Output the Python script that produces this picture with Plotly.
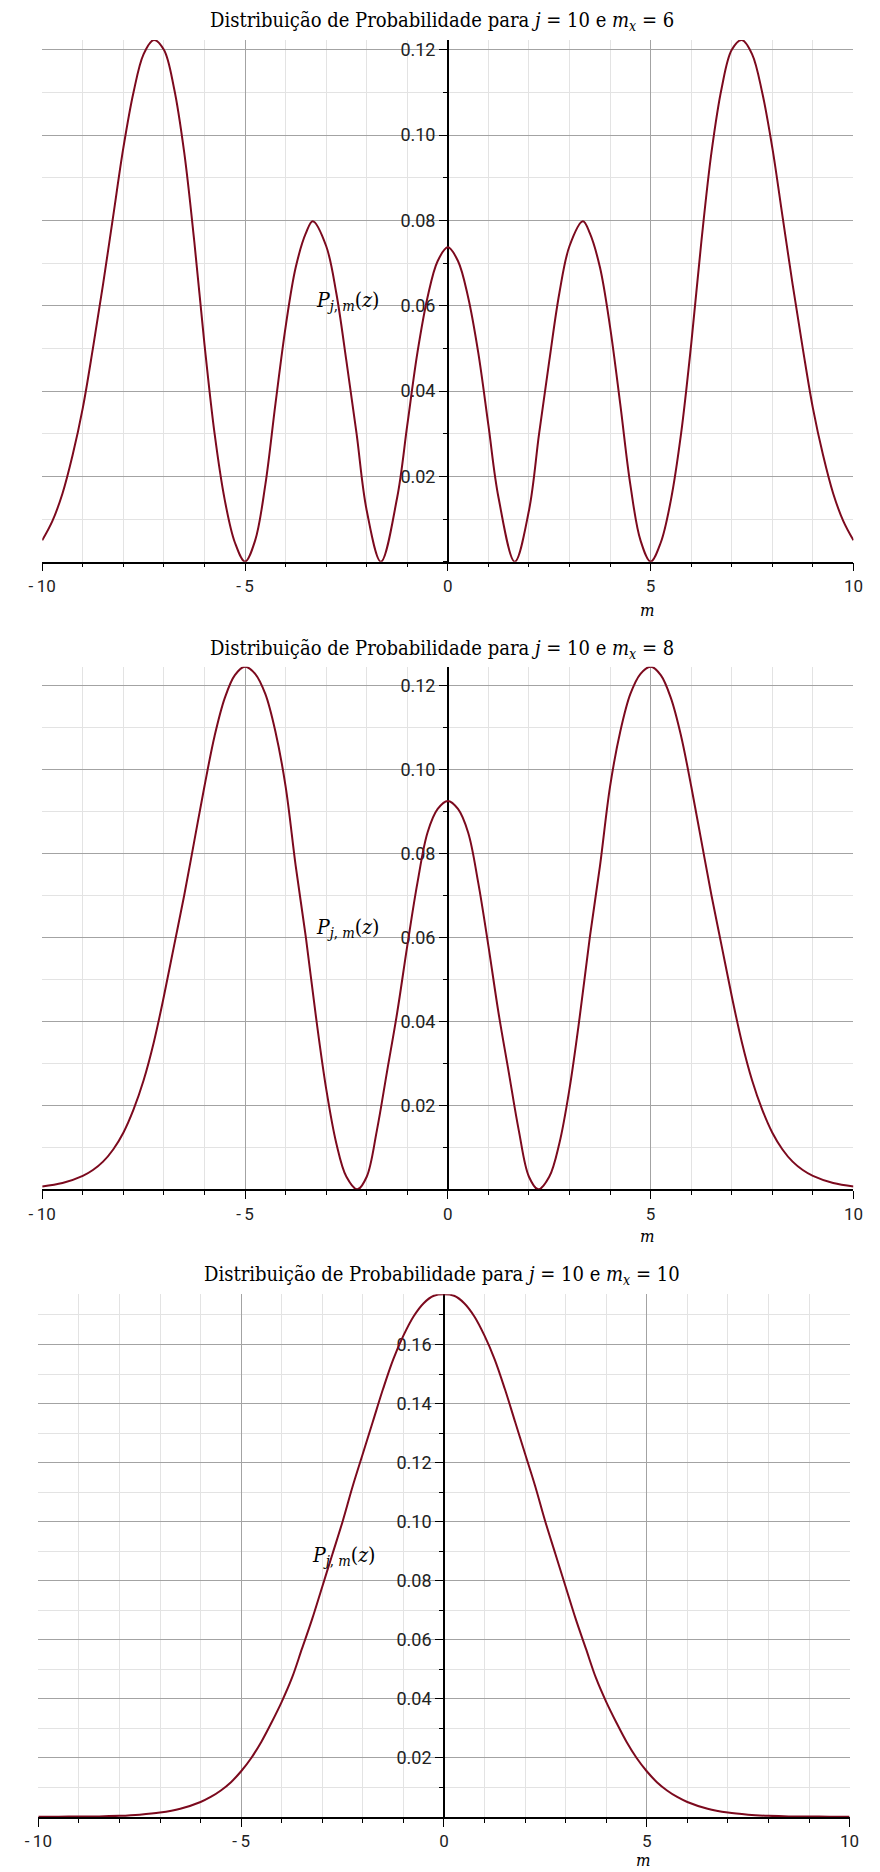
import plotly.graph_objects as go

# ---- P_{j,m}(z) for j = 10, m_x = 6 ----
m1 = [-10, -9.75, -9.5, -9.25, -9, -8.75, -8.5, -8.25, -8, -7.75, -7.5, -7.25, -7,
      -6.75, -6.5, -6.25, -6, -5.75, -5.5, -5.25, -5, -4.75, -4.5, -4.25, -4, -3.75,
      -3.5, -3.33, -3, -2.75, -2.5, -2.25, -2, -1.65, -1.25, -1, -0.75, -0.5, -0.25, 0,
      0.25, 0.5, 0.75, 1, 1.25, 1.65, 2, 2.25, 2.5, 2.75, 3, 3.33, 3.5, 3.75, 4, 4.25,
      4.5, 4.75, 5, 5.25, 5.5, 5.75, 6, 6.25, 6.5, 6.75, 7, 7.25, 7.5, 7.75, 8, 8.25,
      8.5, 8.75, 9, 9.25, 9.5, 9.75, 10]
p1 = [0.005, 0.0095, 0.016, 0.025, 0.036, 0.050, 0.065, 0.081, 0.097, 0.110, 0.119, 0.1223, 0.120,
      0.111, 0.096, 0.075, 0.051, 0.030, 0.0145, 0.0045, 0.0, 0.005, 0.018, 0.037, 0.055, 0.069,
      0.077, 0.0798, 0.074, 0.063, 0.047, 0.030, 0.012, 0.0, 0.015, 0.032, 0.049, 0.062, 0.0705, 0.0737,
      0.0705, 0.062, 0.049, 0.032, 0.015, 0.0, 0.012, 0.030, 0.047, 0.063, 0.074, 0.0798, 0.077, 0.069, 0.055, 0.037,
      0.018, 0.005, 0.0, 0.0045, 0.0145, 0.030, 0.051, 0.075, 0.096, 0.111, 0.120, 0.1223, 0.119, 0.110, 0.097, 0.081,
      0.065, 0.050, 0.036, 0.025, 0.016, 0.0095, 0.005]

# ---- P_{j,m}(z) for j = 10, m_x = 8 ----
m2 = [-10, -9.5, -9, -8.75, -8.5, -8.25, -8, -7.75, -7.5, -7.25, -7, -6.75, -6.5, -6.25, -6,
      -5.75, -5.5, -5.25, -5, -4.75, -4.5, -4.25, -4, -3.75, -3.5, -3.25, -3, -2.75,
      -2.5, -2.23, -2, -1.75, -1.5, -1.25, -1, -0.75, -0.5, -0.25, 0,
      0.25, 0.5, 0.75, 1, 1.25, 1.5, 1.75, 2, 2.23, 2.5, 2.75, 3, 3.25, 3.5, 3.75, 4,
      4.25, 4.5, 4.75, 5, 5.25, 5.5, 5.75, 6, 6.25, 6.5, 6.75, 7, 7.25, 7.5, 7.75, 8,
      8.25, 8.5, 8.75, 9, 9.5, 10]
p2 = [0.0007, 0.0015, 0.0032, 0.0046, 0.0066, 0.0095, 0.0135, 0.019, 0.026, 0.035, 0.046, 0.058, 0.070, 0.083, 0.096,
      0.108, 0.117, 0.1225, 0.1245, 0.1228, 0.118, 0.109, 0.096, 0.077, 0.060, 0.041, 0.024, 0.011,
      0.003, 0.0, 0.003, 0.014, 0.028, 0.042, 0.058, 0.073, 0.085, 0.0906, 0.0925,
      0.0906, 0.085, 0.073, 0.058, 0.042, 0.028, 0.014, 0.003, 0.0, 0.003, 0.011, 0.024, 0.041, 0.060, 0.077, 0.096,
      0.109, 0.118, 0.1228, 0.1245, 0.1225, 0.117, 0.108, 0.096, 0.083, 0.070, 0.058, 0.046, 0.035, 0.026, 0.019, 0.0135,
      0.0095, 0.0066, 0.0046, 0.0032, 0.0015, 0.0007]

# ---- P_{j,m}(z) for j = 10, m_x = 10 ----
m3 = [-10, -9.5, -9, -8.5, -8, -7.5, -7, -6.5, -6, -5.75, -5.5, -5.25, -5, -4.75, -4.5, -4.25,
      -4, -3.75, -3.5, -3.25, -3, -2.75, -2.5, -2.25, -2, -1.75, -1.5, -1.25, -1, -0.75,
      -0.5, -0.25, 0, 0.25, 0.5, 0.75, 1, 1.25, 1.5, 1.75, 2, 2.25, 2.5, 2.75, 3, 3.25,
      3.5, 3.75, 4, 4.25, 4.5, 4.75, 5, 5.25, 5.5, 5.75, 6, 6.5, 7, 7.5, 8, 8.5, 9, 9.5, 10]
p3 = [0.0001, 0.0001, 0.0002, 0.0002, 0.0004, 0.0008, 0.0015, 0.0028, 0.0051, 0.0068, 0.0090, 0.0118, 0.0155, 0.020, 0.0255, 0.032,
      0.039, 0.047, 0.057, 0.067, 0.078, 0.089, 0.100, 0.112, 0.123, 0.134, 0.145, 0.155, 0.163, 0.1695,
      0.174, 0.1765, 0.177, 0.1765, 0.174, 0.1695, 0.163, 0.155, 0.145, 0.134, 0.123, 0.112, 0.100, 0.089, 0.078, 0.067,
      0.057, 0.047, 0.039, 0.032, 0.0255, 0.020, 0.0155, 0.0118, 0.0090, 0.0068, 0.0051, 0.0028, 0.0015, 0.0008, 0.0004,
      0.0002, 0.0002, 0.0001, 0.0001]

mx_values = [6, 8, 10]
x_tickvals = [-10, -5, 0, 5, 10]
x_ticktext = ["-\u200910", "-\u20095", "0", "5", "10"]
y_tickvals = [[0.02, 0.04, 0.06, 0.08, 0.10, 0.12],
              [0.02, 0.04, 0.06, 0.08, 0.10, 0.12],
              [0.02, 0.04, 0.06, 0.08, 0.10, 0.12, 0.14, 0.16]]

series = [(m1, p1), (m2, p2), (m3, p3)]

W, H = 880, 1872
CURVE = "#7c0a1e"
SERIF = "DejaVu Serif Condensed, DejaVu Serif, serif"
SANS = "Roboto, DejaVu Sans, sans-serif"

# pixel geometry of each panel: (left, right, top, bottom)
panels = [(29, 863, 39, 561), (29, 863, 666, 1189), (25, 859, 1294, 1817)]
title_y = [20, 648, 1275]
mlabel_y = [609, 1236, 1860]

fig = go.Figure()
layout = dict(width=W, height=H, autosize=False,
              margin=dict(l=0, r=0, t=0, b=0),
              paper_bgcolor="white", plot_bgcolor="white",
              showlegend=False, annotations=[])

for i, ((mm, pp), (L, R, T, B)) in enumerate(zip(series, panels)):
    k = "" if i == 0 else str(i + 1)
    fig.add_trace(go.Scatter(x=mm, y=pp, mode="lines",
                             line=dict(color=CURVE, width=2, shape="spline", smoothing=1.0),
                             xaxis="x" + k, yaxis="y" + k, hoverinfo="skip"))
    xd = [L / W, R / W]
    yd = [1 - B / H, 1 - T / H]
    layout["xaxis" + k] = dict(
        domain=xd, range=[-10, 10], anchor="y" + k,
        tickmode="array", tickvals=x_tickvals, ticktext=x_ticktext,
        ticks="outside", ticklen=8, tickwidth=1, tickcolor="black",
        showline=True, linecolor="black", linewidth=1.5,
        showgrid=True, gridcolor="#a3a3a3", gridwidth=1.2, zeroline=False,
        tickfont=dict(family=SANS, size=17, color="#222"),
        minor=dict(dtick=1, tick0=0, ticks="outside", ticklen=4, tickcolor="black",
                   showgrid=True, gridcolor="#e3e3e3", gridwidth=1),
        layer="below traces", fixedrange=True)
    layout["yaxis" + k] = dict(
        domain=yd, range=[0, max(pp)], anchor="free",
        position=(xd[0] + xd[1]) / 2,
        tickmode="array", tickvals=y_tickvals[i],
        ticktext=["%.2f" % v for v in y_tickvals[i]],
        ticks="outside", ticklen=8, tickwidth=1, tickcolor="black",
        showline=True, linecolor="black", linewidth=1.5,
        showgrid=True, gridcolor="#a3a3a3", gridwidth=1.2, zeroline=False,
        tickfont=dict(family=SANS, size=18, color="#222"),
        minor=dict(dtick=0.01, tick0=0, ticks="outside", ticklen=4, tickcolor="black",
                   showgrid=True, gridcolor="#e3e3e3", gridwidth=1),
        layer="below traces", fixedrange=True)

    layout["annotations"].append(dict(
        xref="paper", yref="paper", x=0.5, y=1 - title_y[i] / H,
        xanchor="center", yanchor="middle", showarrow=False,
        text="Distribuição de Probabilidade para <i>j</i> = 10 e <i>m</i><sub><i>x</i></sub> = %d" % mx_values[i],
        font=dict(family=SERIF, size=20, color="black")))
    layout["annotations"].append(dict(
        xref="x" + k, yref="paper", x=4.92, y=1 - mlabel_y[i] / H,
        xanchor="center", yanchor="middle", showarrow=False,
        text="<i>m</i>", font=dict(family=SERIF, size=17, color="black")))
    layout["annotations"].append(dict(
        xref="paper", yref="y" + k + " domain", x=(L + 348) / W, y=0.5,
        xanchor="right", yanchor="middle", showarrow=False,
        text="<i>P</i><sub><i>j</i>, <i>m</i></sub>(<i>z</i>)",
        font=dict(family=SERIF, size=21, color="black")))

fig.update_layout(**layout)
fig.write_html("out.html")
